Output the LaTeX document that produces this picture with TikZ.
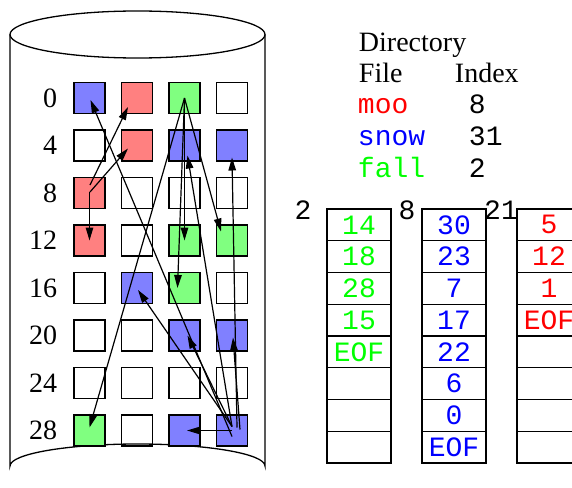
\documentclass[tikz,border=0pt]{standalone}
\usepackage{fontspec}
\setmainfont{Liberation Serif}
\setmonofont{Liberation Mono}
\usetikzlibrary{arrows.meta,positioning}
\definecolor{lblue}{HTML}{8080FF}
\definecolor{lred}{HTML}{FF8080}
\definecolor{lgreen}{HTML}{80FF80}
\definecolor{tblue}{HTML}{0000FF}
\definecolor{tred}{HTML}{FF0000}
\definecolor{tgreen}{HTML}{00FF00}
\begin{document}
\begin{tikzpicture}[x=1pt, y=-1pt, line width=1.3pt,
    every node/.style={font=\fontsize{28}{31}\selectfont},
    mono/.style={font=\ttfamily\fontsize{28}{31}\selectfont},
    blk/.style={draw, minimum size=31pt, inner sep=0pt},
    cell/.style={draw, mono, minimum width=64pt, minimum height=31.75pt, inner sep=0pt, outer sep=0pt},
    link/.style={-{Triangle[length=13pt,width=7.5pt]}, line width=1.2pt}]
    \useasboundingbox (0,0) rectangle (572,487);
    \clip (0,0) rectangle (572,487);
    % the disk
    \draw (137.5,34.5) ellipse[x radius=127.5, y radius=23.5];
    \draw (10,34.5) -- (10,466) arc[start angle=180, end angle=360, x radius=127.5, y radius=22] -- (265,34.5);
    % block numbers
    \node [anchor=east] (r0) at (61,98) {0};
    \node [anchor=east] (r4) at (61,145.5) {4};
    \node [anchor=east] (r8) at (61,193) {8};
    \node [anchor=east] (r12) at (61,240.5) {12};
    \node [anchor=east] (r16) at (61,288) {16};
    \node [anchor=east] (r20) at (61,335.5) {20};
    \node [anchor=east] (r24) at (61,383) {24};
    \node [anchor=east] (r28) at (61,430.5) {28};
    % blocks
    \node [blk, fill=lblue] (b0) at (89.5,98) {};
    \node [blk, fill=lred] (b1) at (137,98) {};
    \node [blk, fill=lgreen] (b2) at (184.5,98) {};
    \node [blk] (b3) at (232,98) {};
    \node [blk] (b4) at (89.5,145.5) {};
    \node [blk, fill=lred] (b5) at (137,145.5) {};
    \node [blk, fill=lblue] (b6) at (184.5,145.5) {};
    \node [blk, fill=lblue] (b7) at (232,145.5) {};
    \node [blk, fill=lred] (b8) at (89.5,193) {};
    \node [blk] (b9) at (137,193) {};
    \node [blk] (b10) at (184.5,193) {};
    \node [blk] (b11) at (232,193) {};
    \node [blk, fill=lred] (b12) at (89.5,240.5) {};
    \node [blk] (b13) at (137,240.5) {};
    \node [blk, fill=lgreen] (b14) at (184.5,240.5) {};
    \node [blk, fill=lgreen] (b15) at (232,240.5) {};
    \node [blk] (b16) at (89.5,288) {};
    \node [blk, fill=lblue] (b17) at (137,288) {};
    \node [blk, fill=lgreen] (b18) at (184.5,288) {};
    \node [blk] (b19) at (232,288) {};
    \node [blk] (b20) at (89.5,335.5) {};
    \node [blk] (b21) at (137,335.5) {};
    \node [blk, fill=lblue] (b22) at (184.5,335.5) {};
    \node [blk, fill=lblue] (b23) at (232,335.5) {};
    \node [blk] (b24) at (89.5,383) {};
    \node [blk] (b25) at (137,383) {};
    \node [blk] (b26) at (184.5,383) {};
    \node [blk] (b27) at (232,383) {};
    \node [blk, fill=lgreen] (b28) at (89.5,430.5) {};
    \node [blk] (b29) at (137,430.5) {};
    \node [blk, fill=lblue] (b30) at (184.5,430.5) {};
    \node [blk, fill=lblue] (b31) at (232,430.5) {};
    % moo
    \draw [link] ([shift={(0.5,-8)}]b8.center) -- ([shift={(-9,9)}]b1.center);
    \draw [link] ([shift={(0.5,-1)}]b8.center) -- ([shift={(-9,3)}]b5.center);
    \draw [link] ([shift={(0,-1)}]b8.center) -- ([shift={(0,0)}]b12.center);
    % fall
    \draw [link] (b2.center) -- ([shift={(0,0)}]b14.center);
    \draw [link] (b2.center) -- ([shift={(-11,-9)}]b15.center);
    \draw [link] (b2.center) -- ([shift={(-7,0)}]b18.center);
    \draw [link] (b2.center) -- ([shift={(0,-3)}]b28.center);
    % snow
    \draw [link] (b31.center) -- ([shift={(2.5,0)}]b30.center);
    \draw [link] ([shift={(8,-1)}]b31.center) -- ([shift={(1,2)}]b23.center);
    \draw [link] ([shift={(5,-3)}]b31.center) -- ([shift={(0,12)}]b7.center);
    \draw [link] ([shift={(0,-4)}]b31.center) -- ([shift={(1,2)}]b17.center);
    \draw [link] ([shift={(0,-4)}]b31.center) -- ([shift={(3,0)}]b22.center);
    \draw [link] ([shift={(0,-4)}]b31.center) -- ([shift={(3,10)}]b6.center);
    \draw [link] ([shift={(0,6)}]b31.center) -- ([shift={(1,2)}]b0.center);
    % directory
    \node [anchor=base west] (dir) at (355,52) {Directory};
    \node [anchor=base west] (file) at (355,82) {File};
    \node [anchor=base west] (index) at (451,82) {Index};
    \node [anchor=base west, mono, text=tred] (moo) at (354,113) {moo};
    \node [anchor=base west, mono] (moox) at (465,113) {8};
    \node [anchor=base west, mono, text=tblue] (snow) at (354,145) {snow};
    \node [anchor=base west, mono] (snowx) at (465,145) {31};
    \node [anchor=base west, mono, text=tgreen] (fall) at (354,177) {fall};
    \node [anchor=base west, mono] (fallx) at (465,177) {2};
    % green table
    \node [mono] (gl) at (303,210) {2};
    \node [cell, anchor=north west, text=tgreen] (g1) at (327,209) {14};
    \node [cell, below=0pt of g1, text=tgreen] (g2) {18};
    \node [cell, below=0pt of g2, text=tgreen] (g3) {28};
    \node [cell, below=0pt of g3, text=tgreen] (g4) {15};
    \node [cell, below=0pt of g4, text=tgreen] (g5) {EOF};
    \node [cell, below=0pt of g5] (g6) {};
    \node [cell, below=0pt of g6] (g7) {};
    \node [cell, below=0pt of g7] (g8) {};
    % blue table
    \node [mono] (bl) at (407,210) {8};
    \node [cell, anchor=north west, text=tblue] (s1) at (422,209) {30};
    \node [cell, below=0pt of s1, text=tblue] (s2) {23};
    \node [cell, below=0pt of s2, text=tblue] (s3) {7};
    \node [cell, below=0pt of s3, text=tblue] (s4) {17};
    \node [cell, below=0pt of s4, text=tblue] (s5) {22};
    \node [cell, below=0pt of s5, text=tblue] (s6) {6};
    \node [cell, below=0pt of s6, text=tblue] (s7) {0};
    \node [cell, below=0pt of s7, text=tblue] (s8) {EOF};
    % red table
    \node [mono] (rl) at (501,210) {21};
    \node [cell, anchor=north west, text=tred] (m1) at (517,209) {5};
    \node [cell, below=0pt of m1, text=tred] (m2) {12};
    \node [cell, below=0pt of m2, text=tred] (m3) {1};
    \node [cell, below=0pt of m3, text=tred] (m4) {EOF};
    \node [cell, below=0pt of m4] (m5) {};
    \node [cell, below=0pt of m5] (m6) {};
    \node [cell, below=0pt of m6] (m7) {};
    \node [cell, below=0pt of m7] (m8) {};
\end{tikzpicture}
\end{document}
